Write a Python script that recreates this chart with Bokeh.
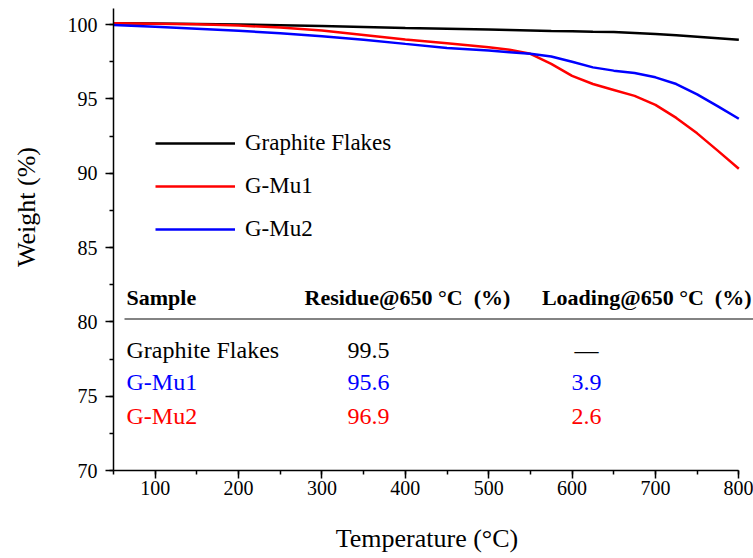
from bokeh.plotting import figure
from bokeh.models import (ColumnDataSource, Range1d, SingleIntervalTicker, Label,
                          Legend, LegendItem)
from bokeh.core.properties import value
from bokeh.embed import file_html
from bokeh.resources import INLINE

# --- TGA data -------------------------------------------------------------
temperature = [50, 100, 150, 200, 250, 300, 350, 400, 450, 500, 525, 550,
               575, 600, 625, 650, 675, 700, 725, 750, 775, 800]
graphite_flakes = [100.09, 100.07, 100.04, 100.0, 99.95, 99.9, 99.84, 99.77,
                   99.72, 99.66, 99.63, 99.6, 99.57, 99.55, 99.52, 99.5,
                   99.44, 99.36, 99.28, 99.18, 99.08, 98.97]
g_mu1 = [100.09, 100.06, 100.02, 99.93, 99.8, 99.6, 99.3, 99.0, 98.75, 98.47,
         98.3, 98.03, 97.36, 96.55, 96.0, 95.6, 95.2, 94.6, 93.72, 92.68,
         91.5, 90.3]
g_mu2 = [99.97, 99.85, 99.72, 99.58, 99.42, 99.22, 98.98, 98.7, 98.43, 98.25,
         98.14, 98.03, 97.85, 97.5, 97.12, 96.9, 96.74, 96.45, 96.0, 95.3,
         94.5, 93.66]

series_names = ["Graphite Flakes", "G-Mu1", "G-Mu2"]
series_colors = ["black", "red", "blue"]

# --- summary table ----------------------------------------------------------
table_header = ["Sample", "Residue@650 \u00b0C\u00a0 (%)", "Loading@650 \u00b0C\u00a0 (%)"]
table_samples = ["Graphite Flakes", "G-Mu1", "G-Mu2"]
table_residue = ["99.5", "95.6", "96.9"]
table_loading = ["\u2014", "3.9", "2.6"]
table_colors = ["black", "blue", "red"]

# --- layout (pixels) --------------------------------------------------------
W, H = 753, 558
LEFT, RIGHT, TOP, BOTTOM = 113, 753, 8, 470
X0, X1 = 50, 817.6
Y0, Y1 = 70, 101.08
SERIF = "Liberation Serif"
NBSP = "\u00a0"


def to_x(px):
    return X0 + (px - LEFT) * (X1 - X0) / (RIGHT - LEFT)


def to_y(py):
    return Y0 + (BOTTOM - py) * (Y1 - Y0) / (BOTTOM - TOP)


p = figure(width=W, height=H, x_range=Range1d(X0, X1), y_range=Range1d(Y0, Y1),
           output_backend="svg", toolbar_location=None,
           min_border_left=LEFT, min_border_right=W - RIGHT,
           min_border_top=TOP, min_border_bottom=H - BOTTOM)
p.xgrid.visible = False
p.ygrid.visible = False
p.outline_line_color = None
p.background_fill_color = "white"
p.border_fill_color = "white"

for ax in (p.xaxis[0], p.yaxis[0]):
    ax.axis_line_width = 1.5
    ax.axis_line_color = "black"
    ax.major_tick_line_width = 1.5
    ax.minor_tick_line_width = 1.5
    ax.major_tick_line_color = "black"
    ax.minor_tick_line_color = "black"
    ax.major_tick_out = 8
    ax.major_tick_in = 0
    ax.minor_tick_out = 4
    ax.minor_tick_in = 0
    ax.major_label_text_font = SERIF
    ax.major_label_text_font_size = "20px"
    ax.major_label_text_color = "black"
    ax.axis_label_text_font = SERIF
    ax.axis_label_text_font_size = "26px"
    ax.axis_label_text_font_style = "normal"
    ax.axis_label_text_color = "black"

p.xaxis.ticker = SingleIntervalTicker(interval=100, num_minor_ticks=2)
p.xaxis.bounds = (50, 800)
p.xaxis.major_label_standoff = 2
# the x title sits centred under the 50-800 span, a little left of the frame centre
p.xaxis.axis_label = "Temperature (\u00b0C)" + NBSP * 2
p.xaxis.axis_label_standoff = 26

p.yaxis.ticker = SingleIntervalTicker(interval=5, num_minor_ticks=2)
p.yaxis.major_label_standoff = 8
# the y title sits above the frame centre
p.yaxis.axis_label = NBSP * 10 + "Weight (%)"
p.yaxis.axis_label_standoff = 24

# --- curves ------------------------------------------------------------------
src = ColumnDataSource(dict(t=temperature, gf=graphite_flakes, m1=g_mu1, m2=g_mu2))
renderers = []
for col, color in zip(["gf", "m1", "m2"], series_colors):
    renderers.append(p.line("t", col, source=src, line_color=color, line_width=2.5))

legend = Legend(items=[LegendItem(label=n, renderers=[r]) for n, r in zip(series_names, renderers)],
                location=(155 - LEFT, 228), padding=0, margin=0, spacing=17,
                glyph_width=80, glyph_height=26, label_height=26, label_standoff=10,
                label_text_font=SERIF, label_text_font_size="23px",
                label_text_color="black",
                border_line_color=None, background_fill_alpha=0)
p.add_layout(legend)

# --- table ---------------------------------------------------------------------
header_pos = [(126, "left"), (304, "left"), (751, "right")]
for text, (px, align) in zip(table_header, header_pos):
    p.add_layout(Label(x=to_x(px), y=to_y(296.7), text=text, text_align=align,
                       text_baseline="middle", text_font=SERIF,
                       text_font_size="22px", text_font_style="bold",
                       text_color="black"))

p.segment(x0=[to_x(124)], y0=[to_y(318.5)], x1=[to_x(753)], y1=[to_y(318.5)],
          line_color="#5a5a5a", line_width=1.5)

row_y = [to_y(v) for v in (349.5, 381.8, 415.8)]
rows = ColumnDataSource(dict(y=row_y, sample=table_samples, residue=table_residue,
                             loading=table_loading, color=table_colors))
for field, px, align in (("sample", 126, "left"), ("residue", 368, "center"),
                         ("loading", 586, "center")):
    p.text(x=to_x(px), y="y", text=field, source=rows, text_color="color",
           text_align=align, text_baseline="middle", text_font=value(SERIF),
           text_font_size="24px")

open("out.html", "w").write(file_html(p, INLINE))
